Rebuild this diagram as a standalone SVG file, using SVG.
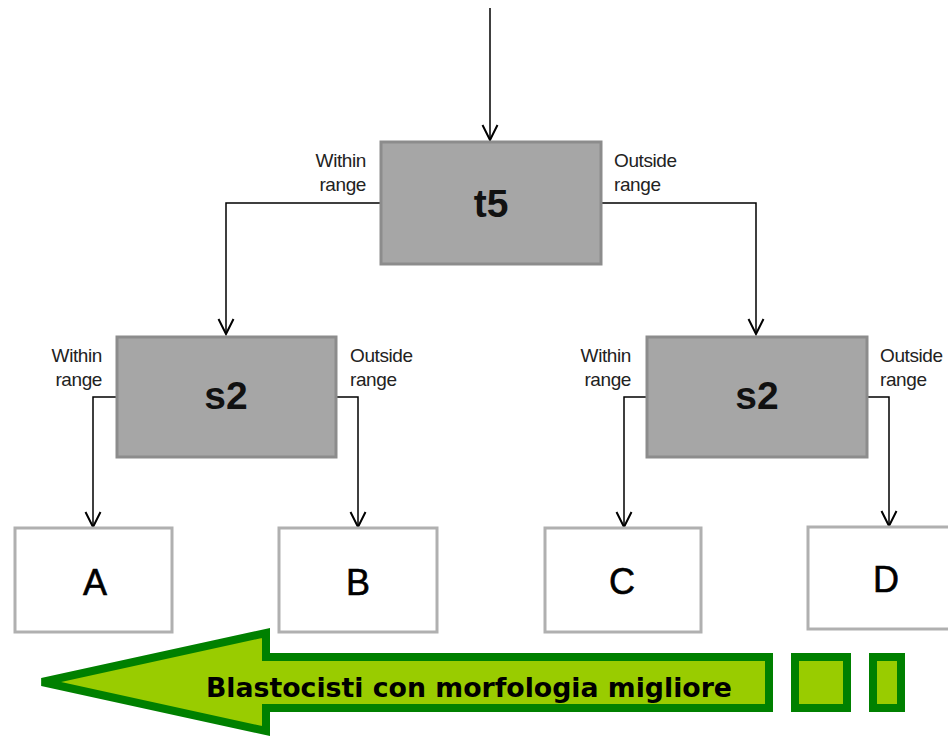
<svg xmlns="http://www.w3.org/2000/svg" width="948" height="736" viewBox="0 0 948 736">
<defs>
<marker id="ah" markerUnits="userSpaceOnUse" markerWidth="20" markerHeight="20" viewBox="-14 -8 16 16" refX="0" refY="0" orient="auto" overflow="visible">
<path d="M-12,-6 L0,0 L-12,6" fill="none" stroke="#000" stroke-width="1.6"/>
</marker>
<style>
.dec{fill:#a6a6a6;stroke:#8c8c8c;stroke-width:3}
.leaf{fill:#fff;stroke:#b0b0b0;stroke-width:3}
.big{font-family:"Liberation Sans",Arial,sans-serif;font-weight:bold;font-size:39px;text-anchor:middle;fill:#111}
.leaft{font-family:"Liberation Sans",Arial,sans-serif;font-size:36px;text-anchor:middle;fill:#000;stroke:#000;stroke-width:0.6}
.lbl{font-family:"Liberation Sans",Arial,sans-serif;font-size:19px;fill:#222;letter-spacing:-0.4px}
.r{text-anchor:end}
.con{fill:none;stroke:#000;stroke-width:1.5;marker-end:url(#ah)}
.g{fill:#99cc00;stroke:#008000;stroke-width:8}
</style>
</defs>
<rect width="948" height="736" fill="#fff"/>
<g id="connectors">
<path class="con" d="M490,8 V140"/>
<path class="con" d="M381,203 H226 V334"/>
<path class="con" d="M601,203 H756 V334"/>
<path class="con" d="M117,397 H93 V527"/>
<path class="con" d="M336,397 H358 V527"/>
<path class="con" d="M647,397 H624 V527"/>
<path class="con" d="M867,397 H889 V526"/>
</g>
<g id="t5">
<rect class="dec" x="381" y="142" width="220" height="122"/>
<text class="big" x="491" y="217">t5</text>
<text class="lbl r" x="366" y="167">Within</text>
<text class="lbl r" x="366" y="191">range</text>
<text class="lbl" x="614" y="167">Outside</text>
<text class="lbl" x="614" y="191">range</text>
</g>
<g id="s2-left">
<rect class="dec" x="117" y="337" width="219" height="120"/>
<text class="big" x="226" y="409">s2</text>
<text class="lbl r" x="102" y="362">Within</text>
<text class="lbl r" x="102" y="386">range</text>
<text class="lbl" x="350" y="362">Outside</text>
<text class="lbl" x="350" y="386">range</text>
</g>
<g id="s2-right">
<rect class="dec" x="647" y="337" width="220" height="120"/>
<text class="big" x="757" y="409">s2</text>
<text class="lbl r" x="631" y="362">Within</text>
<text class="lbl r" x="631" y="386">range</text>
<text class="lbl" x="880" y="362">Outside</text>
<text class="lbl" x="880" y="386">range</text>
</g>
<g id="A">
<rect class="leaf" x="15" y="528" width="157" height="104"/>
<text class="leaft" x="95" y="595">A</text>
</g>
<g id="B">
<rect class="leaf" x="279" y="528" width="158" height="104"/>
<text class="leaft" x="358" y="595">B</text>
</g>
<g id="C">
<rect class="leaf" x="545" y="528" width="156" height="104"/>
<text class="leaft" x="622" y="594">C</text>
</g>
<g id="D">
<rect class="leaf" x="808" y="527" width="145" height="102"/>
<text class="leaft" x="886" y="592">D</text>
</g>
<g id="banner">
<polygon class="g" points="42,682 266,633 266,657 769,657 769,708 266,708 266,731"/>
<rect class="g" x="795" y="657" width="52" height="51"/>
<rect class="g" x="873" y="657" width="28" height="51"/>
<text x="206" y="697" font-family="'DejaVu Sans Condensed','DejaVu Sans',sans-serif" font-weight="bold" font-size="27" fill="#000" textLength="526" lengthAdjust="spacingAndGlyphs">Blastocisti con morfologia migliore</text>
</g>
</svg>
